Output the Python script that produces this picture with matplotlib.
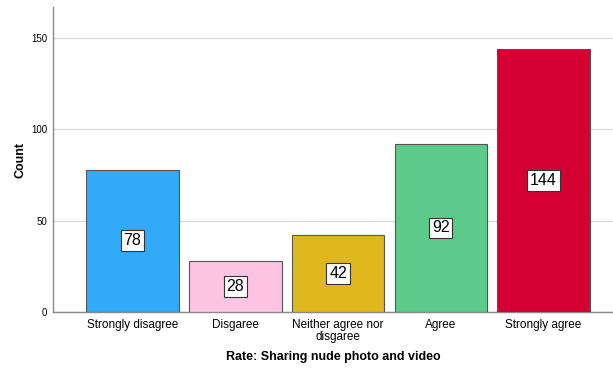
import matplotlib
matplotlib.use("Agg")
import matplotlib.pyplot as plt

categories = ["Strongly disagree", "Disgaree", "Neither agree nor\ndisgaree", "Agree", "Strongly agree"]
counts = [78, 28, 42, 92, 144]
colors = ["#31aaf9", "#fec3e2", "#e0b81e", "#5ccb8a", "#d50032"]
yticks = [0, 50, 100, 150]

plt.rcParams['font.family'] = ['Liberation Sans', 'DejaVu Sans']

fig = plt.figure(figsize=(6.13, 3.70), dpi=100)
ax = fig.add_axes([53/613, 58/370, 560/613, 305/370])

x = list(range(len(categories)))
ax.bar(x, counts, width=0.9, color=colors, edgecolor="#555555", linewidth=0.8, zorder=3)
for xi, c in zip(x, counts):
    ax.text(xi, c / 2, str(c), ha="center", va="center", fontsize=11.5, zorder=4,
            bbox=dict(boxstyle="square,pad=0.18", fc="white", ec="#333333", lw=0.8))

ax.set_xlim(-0.774, 4.676)
ax.set_ylim(0, 167)
ax.set_yticks(yticks)
ax.set_yticklabels([str(v) for v in yticks], fontsize=7)
ax.set_xticks(x)
ax.set_xticklabels(categories, fontsize=8.5, linespacing=1.05)
ax.tick_params(axis="both", length=0, pad=4)
ax.tick_params(axis="x", pad=5)
ax.grid(axis="y", color="#dcdcdc", linewidth=1, zorder=0)
for s in ["top", "right"]:
    ax.spines[s].set_visible(False)
for s in ["left", "bottom"]:
    ax.spines[s].set_color("#888888")
    ax.spines[s].set_linewidth(1)

ax.set_ylabel("Count", fontsize=9, fontweight="bold", va="center")
ax.yaxis.set_label_coords((20 - 53) / 560, 0.5)
ax.set_xlabel("Rate: Sharing nude photo and video", fontsize=9, fontweight="bold", va="center")
ax.xaxis.set_label_coords(0.5, (370 - 357 - 58) / 305)

fig.savefig("out.png", dpi=100)
